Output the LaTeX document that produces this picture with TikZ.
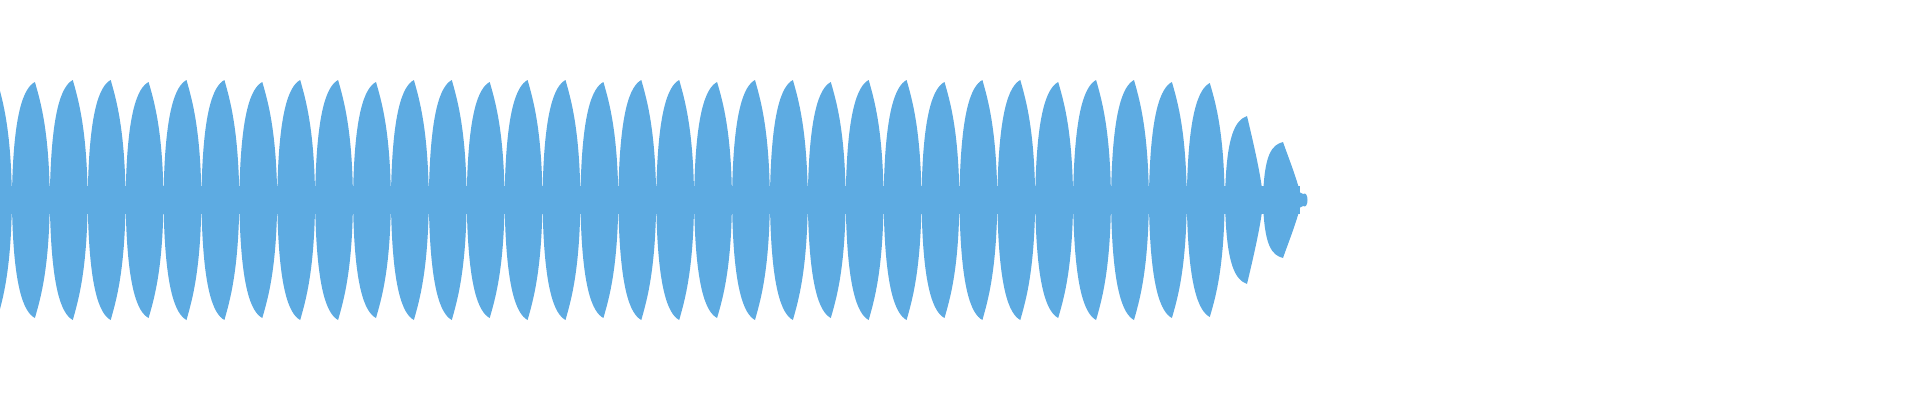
\documentclass[tikz,border=0pt]{standalone}
\definecolor{wave}{RGB}{93,171,226}
\begin{document}
\begin{tikzpicture}[x=0.01cm,y=-0.01cm,lobe/.style={fill=wave,draw=none}]
\useasboundingbox (0,0) rectangle (1920,400);
\clip (0,0) rectangle (1920,400);
\fill[wave] (0,186) rectangle (1300,214);
\foreach \i/\h in {0/120,1/118,2/120,3/120,4/118,5/120,6/120,7/118,8/120,9/120,10/118,11/120,12/120,13/118,14/120,15/120,16/118,17/120,18/120,19/118,20/120,21/120,22/118,23/120,24/120,25/118,26/120,27/120,28/118,29/120,30/120,31/118,32/117}{
  \pgfmathsetmacro{\a}{-26+37.9*\i}
  \pgfmathsetmacro{\b}{\a+37.9}
  \pgfmathsetmacro{\p}{\a+23}
  \fill[lobe] (\a,200) .. controls (\a+1,200-0.75*\h) and (\p-11,200-0.95*\h) .. (\p,200-\h)
    .. controls (\p+5,200-0.85*\h) and (\b-0.5,200-0.6*\h) .. (\b,200)
    .. controls (\b-0.5,200+0.6*\h) and (\p+5,200+0.85*\h) .. (\p,200+\h)
    .. controls (\p-11,200+0.95*\h) and (\a+1,200+0.75*\h) .. (\a,200) -- cycle;
}
% tapering tail lobes
\foreach \a/\h/\p in {1225/84/1247,1263/58/1283}{
  \pgfmathsetmacro{\b}{\a+37.9}
  \fill[lobe] (\a,200) .. controls (\a+1,200-0.8*\h) and (\p-11,200-0.95*\h) .. (\p,200-\h)
    .. controls (\p+6,200-0.7*\h) and (\b,200-0.2*\h) .. (\b,200)
    .. controls (\b,200+0.2*\h) and (\p+6,200+0.7*\h) .. (\p,200+\h)
    .. controls (\p-11,200+0.95*\h) and (\a+1,200+0.8*\h) .. (\a,200) -- cycle;
}
\fill[wave] (1299,192) -- (1303,194) .. controls (1309,190) and (1309,210) .. (1303,206) -- (1299,208) -- cycle;
\end{tikzpicture}
\end{document}
